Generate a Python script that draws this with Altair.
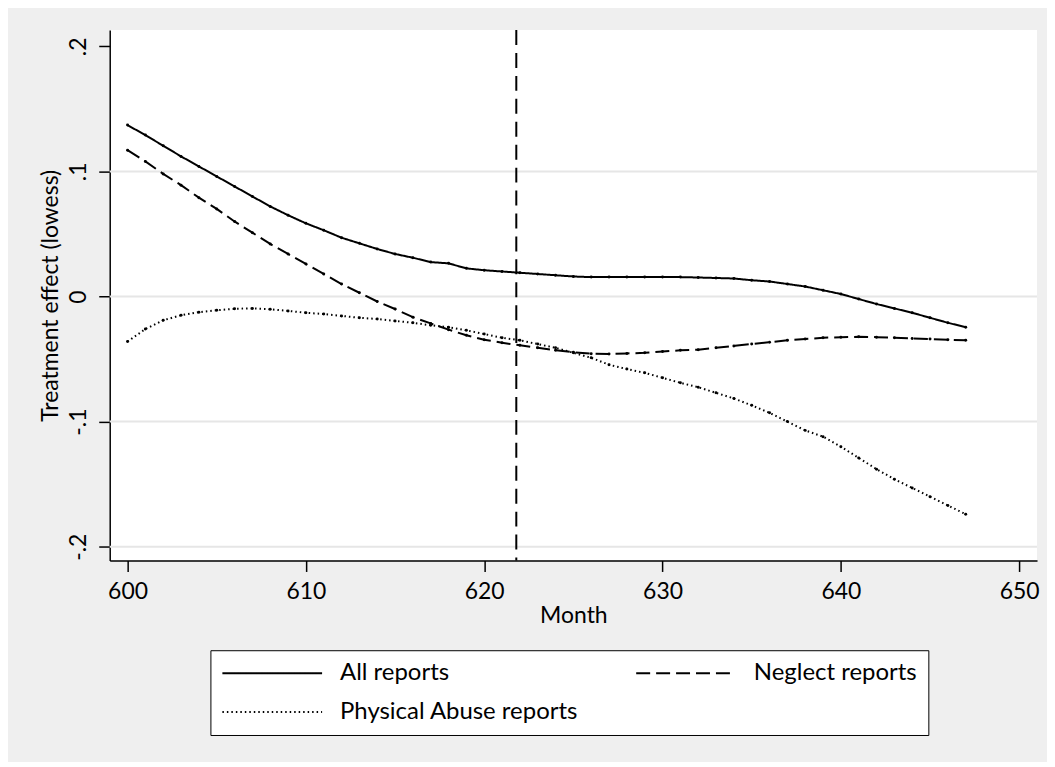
import altair as alt
import pandas as pd

months = list(range(600, 648))

all_reports = [
    0.137, 0.129, 0.1205, 0.112, 0.104, 0.096, 0.088, 0.080, 0.072, 0.065,
    0.0585, 0.053, 0.047, 0.0425, 0.038, 0.034, 0.031, 0.0275, 0.0265, 0.0225,
    0.021, 0.020, 0.019, 0.018, 0.017, 0.016, 0.0155, 0.0155, 0.0155, 0.0155,
    0.0155, 0.0155, 0.0152, 0.0148, 0.0144, 0.013, 0.012, 0.010, 0.008, 0.005,
    0.002, -0.002, -0.006, -0.0095, -0.013, -0.017, -0.021, -0.0245,
]

neglect = [
    0.117, 0.108, 0.098, 0.089, 0.079, 0.070, 0.060, 0.051, 0.042, 0.034,
    0.026, 0.018, 0.010, 0.003, -0.004, -0.010, -0.0165, -0.0215, -0.0265, -0.031,
    -0.0345, -0.037, -0.039, -0.041, -0.043, -0.0445, -0.0457, -0.046, -0.0455, -0.045,
    -0.044, -0.043, -0.0425, -0.041, -0.0395, -0.038, -0.0365, -0.035, -0.034, -0.033,
    -0.0325, -0.0322, -0.0325, -0.033, -0.0335, -0.034, -0.0345, -0.035,
]

physical = [
    -0.036, -0.026, -0.019, -0.015, -0.0125, -0.011, -0.0098, -0.0095, -0.0102, -0.0115,
    -0.013, -0.014, -0.0155, -0.017, -0.018, -0.0195, -0.021, -0.023, -0.0245, -0.027,
    -0.030, -0.033, -0.035, -0.038, -0.041, -0.045, -0.049, -0.0545, -0.058, -0.061,
    -0.065, -0.069, -0.0725, -0.077, -0.0815, -0.087, -0.093, -0.100, -0.107, -0.112,
    -0.120, -0.129, -0.138, -0.146, -0.153, -0.160, -0.167, -0.174,
]

series_names = ["All reports", "Neglect reports", "Physical Abuse reports"]
x_ticks = [600, 610, 620, 630, 640, 650]
y_ticks = [-0.2, -0.1, 0, 0.1, 0.2]
grid_values = [-0.2, -0.1, 0, 0.1]
cutoff_month = [621.8]

rows = []
for name, vals in zip(series_names, [all_reports, neglect, physical]):
    for m, v in zip(months, vals):
        rows.append({"month": m, "value": v, "series": name})
df = pd.DataFrame(rows)

FONT = "Lato"
xscale = alt.Scale(domain=[599, 651], nice=False, zero=False)
yscale = alt.Scale(domain=[-0.211, 0.213], nice=False, zero=False)

x_axis = alt.Axis(values=x_ticks, title="Month", format="d",
                  labelPadding=9, titlePadding=1)
y_axis = alt.Axis(values=y_ticks, title="Treatment effect (lowess)",
                  labelExpr="datum.value == 0 ? '0' : (datum.value < 0 ? '-' : '') + '.' + format(abs(datum.value) * 10, '.0f')",
                  labelAngle=-90, labelAlign="center", labelBaseline="bottom",
                  labelPadding=8, titlePadding=5)
x_enc = alt.X("month:Q", scale=xscale, axis=x_axis)
y_enc = alt.Y("value:Q", scale=yscale, axis=y_axis)

legend = alt.Legend(
    title=None, orient="none", legendX=101, legendY=622,
    direction="horizontal", columns=2, columnPadding=54, rowPadding=15, padding=11,
    symbolType="M-5,0H5", symbolSize=400, symbolOffset=39,
    symbolStrokeColor="black", symbolFillColor="transparent",
    labelOffset=56, labelFontSize=24, labelFont=FONT, labelColor="black",
    labelLimit=500, strokeColor="black", fillColor="white",
)

grid = alt.Chart(pd.DataFrame({"value": grid_values})).mark_rule(
    color="#e6e6e6", strokeWidth=2
).encode(y=y_enc)

vline = alt.Chart(pd.DataFrame({"month": cutoff_month})).mark_rule(
    color="black", strokeWidth=2, strokeDash=[15, 8]
).encode(x=x_enc)

lines = alt.Chart(df).mark_line(color="black").encode(
    x=x_enc,
    y=y_enc,
    strokeDash=alt.StrokeDash("series:N",
                              scale=alt.Scale(domain=series_names,
                                              range=[[1, 0], [14, 6], [1.5, 3]]),
                              legend=legend),
    strokeWidth=alt.StrokeWidth("series:N",
                                scale=alt.Scale(domain=series_names, range=[2, 2, 1.2]),
                                legend=legend),
    detail="series:N",
)

points = alt.Chart(df).mark_point(filled=True, size=9, color="black", opacity=1).encode(
    x=x_enc, y=y_enc, detail="series:N"
)

chart = alt.layer(grid, vline, lines, points).properties(
    width=930, height=532,
    autosize=alt.AutoSizeParams(type="none"),
    padding={"left": 102, "top": 21, "right": 10, "bottom": 201},
).configure(background="#efefef").configure_view(
    fill="white", strokeWidth=0
).configure_axis(
    labelFont=FONT, titleFont=FONT, labelFontSize=23, titleFontSize=23,
    titleFontWeight="normal", labelColor="black", titleColor="black",
    tickColor="black", domainColor="black", tickSize=11, domainWidth=1.5,
    tickWidth=1.5, grid=False,
)

chart.save("out.html", embed_options={"renderer": "svg", "actions": False})
